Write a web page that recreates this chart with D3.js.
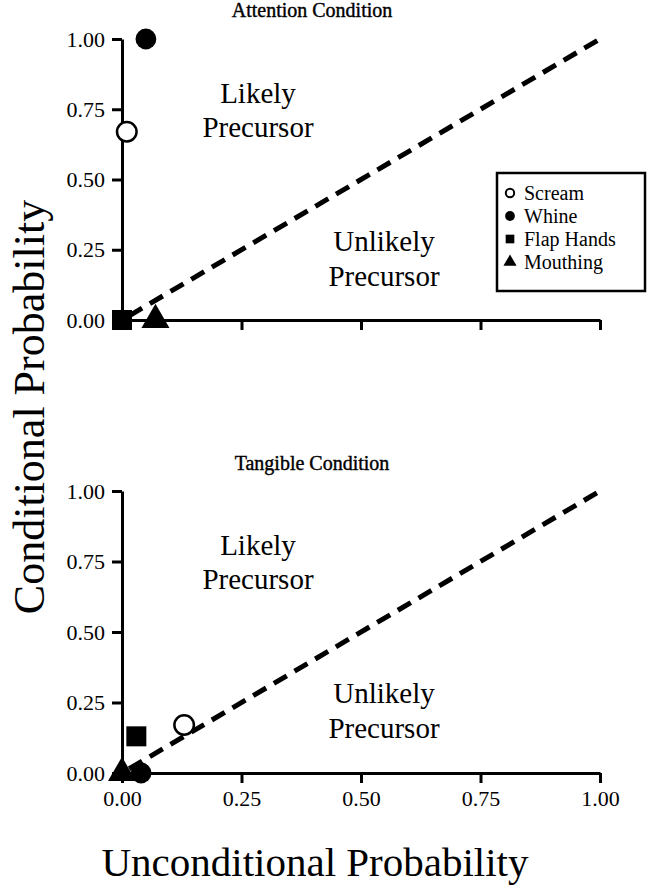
<!DOCTYPE html>
<html>
<head>
<meta charset="utf-8">
<script src="https://cdn.jsdelivr.net/npm/d3@7"></script>
<style>
  body { margin: 0; background: #fff; }
  text { font-family: "Liberation Serif", "Times New Roman", serif; fill: #000; }
</style>
</head>
<body>
<script>
const w = 657;
const h = 892;

// data
const behaviors = ["Scream", "Whine", "Flap Hands", "Mouthing"];
const attentionUncond = [0.01, 0.05, 0.00, 0.07];
const attentionCond = [0.67, 1.00, 0.00, 0.00];
const tangibleUncond = [0.13, 0.04, 0.03, 0.00];
const tangibleCond = [0.17, 0.00, 0.13, 0.00];
const tickValues = [0, 0.25, 0.5, 0.75, 1];

const symbolTypes = [d3.symbolCircle, d3.symbolCircle, d3.symbolSquare, d3.symbolTriangle];
const filled = [false, true, true, true];
const markSize = [300, 340, 400, 340];

const svg = d3.select("body").append("svg")
  .attr("width", w)
  .attr("height", h);

const x = d3.scaleLinear().domain([0, 1]).range([122, 600]);

const panels = [
  { title: "Attention  Condition", top: 39, bottom: 320, titleY: 17, u: attentionUncond, c: attentionCond, labels: false },
  { title: "Tangible Condition", top: 491, bottom: 773, titleY: 470, u: tangibleUncond, c: tangibleCond, labels: true }
];

panels.forEach(p => {
  const y = d3.scaleLinear().domain([0, 1]).range([p.bottom, p.top]);
  const g = svg.append("g");

  // diagonal
  g.append("line")
    .attr("x1", x(0.015)).attr("y1", y(0.015))
    .attr("x2", x(1)).attr("y2", y(1))
    .attr("stroke", "#000")
    .attr("stroke-width", 5)
    .attr("stroke-dasharray", "15,9");

  const yAxis = d3.axisLeft(y)
    .tickValues(tickValues)
    .tickFormat(d3.format(".2f"))
    .tickSize(10)
    .tickSizeOuter(0)
    .tickPadding(7);

  const xAxis = d3.axisBottom(x)
    .tickValues(tickValues)
    .tickFormat(p.labels ? d3.format(".2f") : "")
    .tickSize(10)
    .tickSizeOuter(0)
    .tickPadding(7);

  const ya = g.append("g").attr("transform", "translate(" + x(0) + ",0)").call(yAxis);
  const xa = g.append("g").attr("transform", "translate(0," + y(0) + ")").call(xAxis);

  [ya, xa].forEach(a => {
    a.selectAll("path, line").attr("stroke", "#000").attr("stroke-width", 3);
    a.selectAll("text")
      .style("font-family", "Liberation Serif, serif")
      .style("font-size", "22px")
      .attr("fill", "#000");
  });

  g.append("text")
    .attr("x", 312).attr("y", p.titleY)
    .attr("text-anchor", "middle")
    .style("font-size", "20px")
    .attr("stroke", "#000")
    .attr("stroke-width", 0.4)
    .text(p.title);

  g.append("text")
    .attr("x", 258).attr("y", p.top + 64)
    .attr("text-anchor", "middle")
    .style("font-size", "29px")
    .selectAll("tspan")
    .data(["Likely", "Precursor"])
    .enter().append("tspan")
    .attr("x", 258)
    .attr("dy", (d, i) => i ? 34 : 0)
    .text(d => d);

  g.append("text")
    .attr("x", 384).attr("y", p.top + 212)
    .attr("text-anchor", "middle")
    .style("font-size", "29px")
    .selectAll("tspan")
    .data(["Unlikely", "Precursor"])
    .enter().append("tspan")
    .attr("x", 384)
    .attr("dy", (d, i) => i ? 35 : 0)
    .text(d => d);

  g.selectAll(".pt")
    .data(behaviors)
    .enter().append("path")
    .attr("class", "pt")
    .attr("transform", (d, i) => "translate(" + x(p.u[i]) + "," + y(p.c[i]) + ")")
    .attr("d", (d, i) => d3.symbol().type(symbolTypes[i]).size(markSize[i])())
    .attr("fill", (d, i) => filled[i] ? "#000" : "#fff")
    .attr("stroke", "#000")
    .attr("stroke-width", (d, i) => filled[i] ? 0 : 2.5);
});

// legend
const legend = svg.append("g").attr("transform", "translate(497,173)");
legend.append("rect")
  .attr("width", 148).attr("height", 118)
  .attr("fill", "#fff")
  .attr("stroke", "#000")
  .attr("stroke-width", 2.5);

const items = legend.selectAll(".item")
  .data(behaviors)
  .enter().append("g")
  .attr("transform", (d, i) => "translate(0," + (20 + i * 23) + ")");

items.append("path")
  .attr("transform", "translate(13,0)")
  .attr("d", (d, i) => d3.symbol().type(symbolTypes[i]).size(i === 0 ? 55 : 75)())
  .attr("fill", (d, i) => filled[i] ? "#000" : "#fff")
  .attr("stroke", "#000")
  .attr("stroke-width", (d, i) => filled[i] ? 0 : 2);

items.append("text")
  .attr("x", 27).attr("y", 7)
  .style("font-size", "20px")
  .text(d => d);

// axis titles
svg.append("text")
  .attr("x", 315).attr("y", 876)
  .attr("text-anchor", "middle")
  .style("font-size", "41px")
  .text("Unconditional Probability");

svg.append("text")
  .attr("transform", "translate(44,407) rotate(-90)")
  .attr("text-anchor", "middle")
  .style("font-size", "44px")
  .text("Conditional Probability");
</script>
</body>
</html>
